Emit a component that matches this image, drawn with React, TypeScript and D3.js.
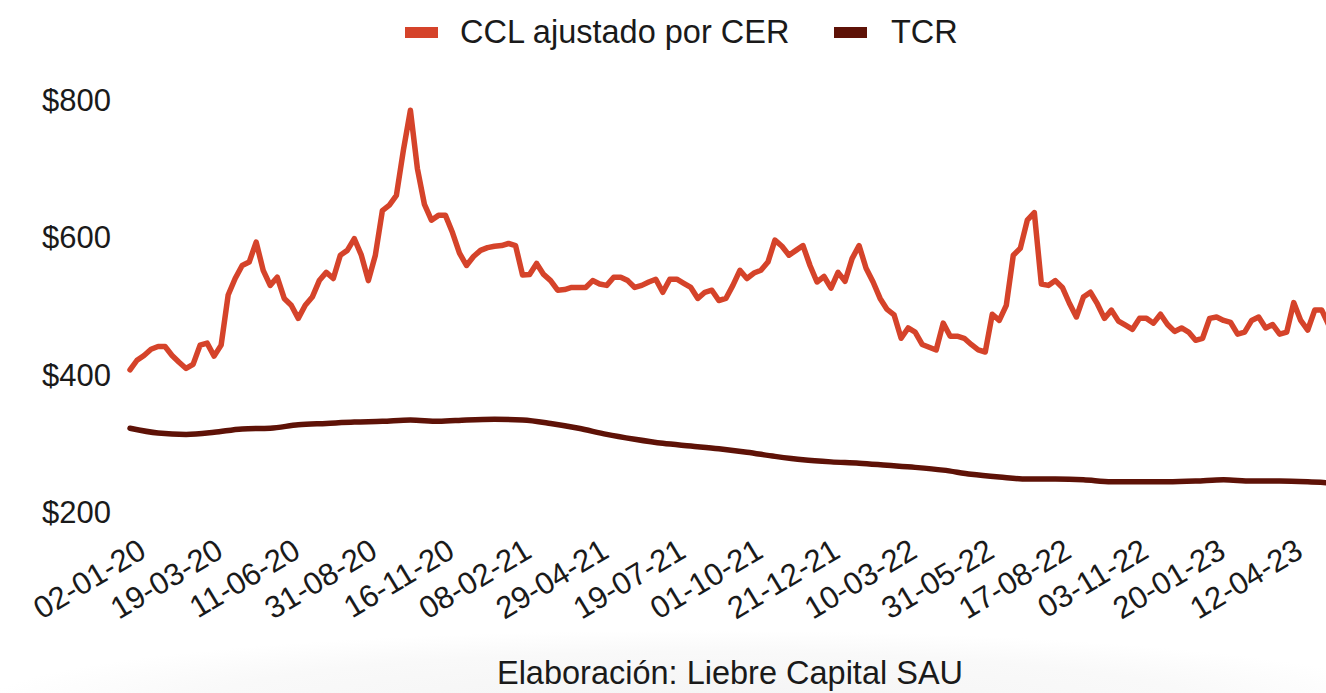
import React from 'react';
import * as d3 from 'd3';

// etiquetas del eje x (cada 55 ruedas)
const tickLabels = [
  '02-01-20', '19-03-20', '11-06-20', '31-08-20', '16-11-20', '08-02-21', '29-04-21', '19-07-21',
  '01-10-21', '21-12-21', '10-03-22', '31-05-22', '17-08-22', '03-11-22', '20-01-23', '12-04-23',
];
const tickStep = 55;

// CCL ajustado por CER, una muestra cada 5 ruedas
const cclStep = 5;
const cclValues = [
  407, 421, 428, 437, 441, 441, 428, 418, 409, 415,
  443, 446, 427, 443, 516, 540, 559, 564, 593, 552,
  530, 542, 511, 501, 482, 501, 513, 537, 549, 540,
  574, 581, 598, 574, 537, 574, 639, 647, 661, 727,
  785, 700, 648, 625, 632, 632, 607, 577, 559, 572,
  581, 585, 587, 588, 591, 588, 545, 546, 562, 546,
  537, 523, 524, 527, 527, 527, 537, 532, 530, 542,
  542, 537, 527, 530, 535, 539, 520, 539, 539, 533,
  527, 511, 520, 523, 508, 511, 530, 552, 540, 548,
  552, 564, 596, 587, 574, 581, 588, 559, 535, 543,
  526, 549, 536, 569, 588, 555, 535, 511, 495, 487,
  453, 468, 462, 444, 440, 436, 475, 456, 456, 453,
  444, 436, 433, 488, 479, 501, 574, 584, 625, 636,
  532, 530, 537, 527, 504, 484, 513, 520, 503, 482,
  494, 478, 472, 466, 482, 482, 475, 488, 473, 463,
  468, 462, 450, 453, 482, 484, 479, 476, 459, 462,
  479, 484, 468, 473, 459, 462, 505, 479, 465, 494,
  494, 472,
];

// TCR, una muestra cada 20 ruedas
const tcrStep = 20;
const tcrValues = [
  322, 315, 313, 316, 321, 322, 327, 329, 331, 332,
  334, 332, 334, 335, 334, 329, 322, 313, 306, 300,
  296, 292, 287, 281, 276, 273, 271, 268, 265, 261,
  255, 251, 248, 248, 247, 244, 244, 244, 245, 247,
  245, 245, 244, 242,
];

const yTicks = [200, 400, 600, 800];
const seriesNames = ['CCL ajustado por CER', 'TCR'];
const seriesColors = ['#d5432a', '#5e1207'];

const W = 1326;
const H = 693;
const FONT = '"Liberation Sans", Arial, sans-serif';

export default function App() {
  const x = d3.scaleLinear().domain([0, 825]).range([130, 1286.7]);
  const y = d3.scaleLinear().domain([200, 800]).range([512, 100]);

  const cclLine = d3
    .line<number>()
    .x((_, i) => x(i * cclStep))
    .y((d) => y(d));
  const tcrLine = d3
    .line<number>()
    .x((_, i) => x(i * tcrStep))
    .y((d) => y(d))
    .curve(d3.curveMonotoneX);

  return (
    <svg
      width={W}
      height={H}
      style={{ position: 'absolute', left: 0, top: 0, background: '#fff' }}
      fontFamily={FONT}
    >
      <defs>
        <radialGradient id="shade" cx="0.5" cy="0.5" r="0.5">
          <stop offset="0%" stopColor="#f4f4f4" />
          <stop offset="70%" stopColor="#f9f9f9" />
          <stop offset="100%" stopColor="#ffffff" />
        </radialGradient>
      </defs>
      <rect width={W} height={H} fill="#fff" />
      <ellipse cx={700} cy={705} rx={720} ry={75} fill="url(#shade)" />

      {/* leyenda */}
      <rect x={405} y={27} width={33} height={11} fill={seriesColors[0]} />
      <text x={460} y={43} fontSize={32.5} fill="#1a1a1a">{seriesNames[0]}</text>
      <rect x={834} y={27} width={33} height={11} fill={seriesColors[1]} />
      <text x={891} y={43} fontSize={32.5} fill="#1a1a1a">{seriesNames[1]}</text>

      {/* eje y */}
      {yTicks.map((v) => (
        <text key={v} x={111} y={y(v) + 11} fontSize={31} textAnchor="end" fill="#1a1a1a">
          ${v}
        </text>
      ))}

      {/* eje x */}
      {tickLabels.map((t, i) => {
        const tx = x(i * tickStep) + 18;
        const ty = 556;
        return (
          <text
            key={t}
            x={tx}
            y={ty}
            fontSize={31}
            textAnchor="end"
            fill="#1a1a1a"
            transform={`rotate(-31 ${tx} ${ty})`}
          >
            {t}
          </text>
        );
      })}

      {/* series */}
      <path
        d={tcrLine(tcrValues) ?? ''}
        fill="none"
        stroke={seriesColors[1]}
        strokeWidth={5.5}
        strokeLinejoin="round"
        strokeLinecap="round"
      />
      <path
        d={cclLine(cclValues) ?? ''}
        fill="none"
        stroke={seriesColors[0]}
        strokeWidth={5.5}
        strokeLinejoin="round"
        strokeLinecap="round"
      />

      <text x={730} y={684} fontSize={32.5} textAnchor="middle" fill="#1a1a1a">
        Elaboración: Liebre Capital SAU
      </text>
    </svg>
  );
}
